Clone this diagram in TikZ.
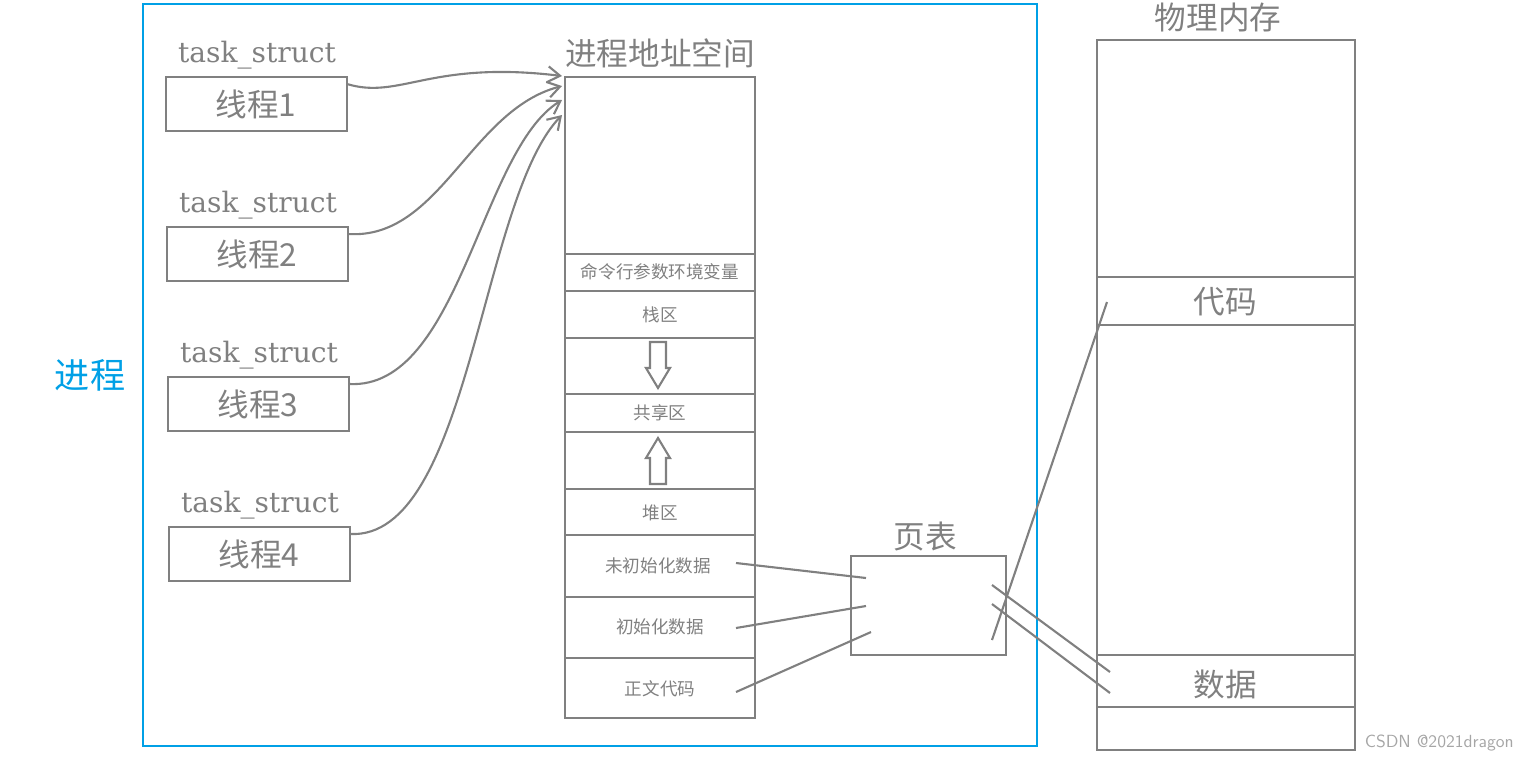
\documentclass[tikz,border=0pt]{standalone}
\usepackage{fontspec}
\newfontfamily\cjk{Noto Sans CJK SC}
\newfontfamily\ser{DejaVu Serif}
\usetikzlibrary{arrows.meta}
\definecolor{g}{RGB}{128,128,128}
\definecolor{bl}{RGB}{0,160,230}
\begin{document}
\begin{tikzpicture}[x=0.02cm,y=-0.02cm,
  box/.style={draw=g,line width=1.6pt},
  lbl/.style={text=g,font=\ser\fontsize{16}{16}\selectfont},
  big/.style={text=g,font=\cjk\fontsize{18}{18}\selectfont},
  sm/.style={text=g,font=\cjk\fontsize{10}{10}\selectfont},
  ln/.style={draw=g,line width=1.2pt},
  arr/.style={draw=g,line width=1.2pt,-{Straight Barb[length=7pt,width=9pt]}}]
\useasboundingbox (0,0) rectangle (1535,762);
\draw[bl,line width=1.6pt] (143,4) rectangle (1037,746);
\node[text=bl,font=\cjk\fontsize{20}{20}\selectfont] (proc) at (90,375) {进程};
% threads
\foreach \i/\y/\dx in {1/77/0,2/227/1,3/377/2,4/527/3}{
  \draw[box] (166+\dx,\y) rectangle (347+\dx,\y+54);
  \node[big] (t\i) at (256+\dx,\y+27) {线程\i};
  \node[lbl] (ts\i) at (257+\dx,\y-22) {task\_struct};
  \coordinate (s\i) at (347+\dx,\y+7);
}
% address space
\node[big] (as) at (660,53) {进程地址空间};
\draw[box] (565,77) rectangle (755,718);
\foreach \yy in {254,291,338,394,432,489,535,597,658}{\draw[box] (565,\yy)--(755,\yy);}
\node[sm] (a1) at (660,272) {命令行参数环境变量};
\node[sm] (a2) at (660,315) {栈区};
\node[sm] (a3) at (660,413) {共享区};
\node[sm] (a4) at (660,513) {堆区};
\node[sm] (a5) at (658,566) {未初始化数据};
\node[sm] (a6) at (660,627) {初始化数据};
\node[sm] (a7) at (660,689) {正文代码};
\draw[ln] (650,342)--(666,342)--(666,368)--(670,368)--(658,388)--(646,368)--(650,368)--cycle;
\draw[ln] (650,484)--(666,484)--(666,458)--(670,458)--(658,438)--(646,458)--(650,458)--cycle;
\coordinate (e1) at (562,76);
\coordinate (e2) at (562,86);
\coordinate (e3) at (562,100);
\coordinate (e4) at (562,115);
\draw[arr] (s1) .. controls (400,100) and (430,60) .. (e1);
\draw[arr] (s2) .. controls (440,240) and (470,110) .. (e2);
\draw[arr] (s3) .. controls (460,390) and (480,150) .. (e3);
\draw[arr] (s4) .. controls (470,540) and (480,200) .. (e4);
% page table
\draw[box] (851,556) rectangle (1006,655);
\node[big] (pt) at (925,537) {页表};
% physical memory
\node[big] (pm) at (1218,18) {物理内存};
\draw[box] (1097,40) rectangle (1355,750);
\foreach \yy in {277,325,655,707}{\draw[box] (1097,\yy)--(1355,\yy);}
\node[big] (code) at (1225,302) {代码};
\node[big] (data) at (1225,684) {数据};
\coordinate (p1) at (736,563); \coordinate (q1) at (866,578);
\coordinate (p2) at (736,628); \coordinate (q2) at (866,606);
\coordinate (p3) at (736,692); \coordinate (q3) at (871,632);
\draw[ln] (p1)--(q1); \draw[ln] (p2)--(q2); \draw[ln] (p3)--(q3);
\coordinate (r1) at (992,640); \coordinate (c1) at (1107,302);
\coordinate (r2) at (992,585); \coordinate (c2) at (1110,672);
\coordinate (r3) at (992,604); \coordinate (c3) at (1110,693);
\draw[ln] (r1)--(c1); \draw[ln] (r2)--(c2); \draw[ln] (r3)--(c3);
\node[text=g!70,font=\fontsize{10}{10}\selectfont\sffamily,anchor=east] (wm) at (1520,743) {CSDN @2021dragon};
\end{tikzpicture}
\end{document}
